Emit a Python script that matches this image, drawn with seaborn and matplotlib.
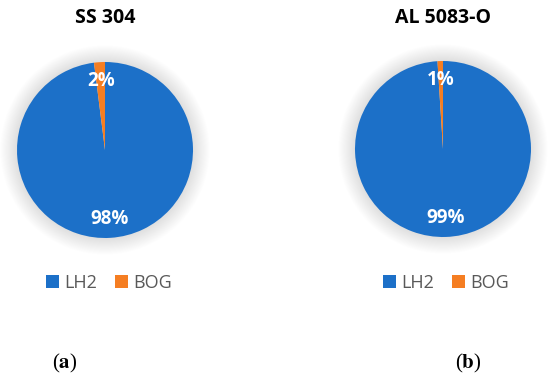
import numpy as np
import matplotlib
matplotlib.use("Agg")
import matplotlib.pyplot as plt
from matplotlib.patches import Circle, Patch
import seaborn as sns

# data
materials = ["SS 304", "AL 5083-O"]
categories = ["LH2", "BOG"]
shares_ss304 = [98, 2]
shares_al5083 = [99, 1]
panel_tags = ["a", "b"]

sns.set_theme(style="white")
plt.rcParams['font.family'] = ['Open Sans', 'DejaVu Sans']
plt.rcParams['mathtext.fontset'] = 'stix'

colors = ["#1C70C8", "#F57E22"]

W, H = 550, 382
fig = plt.figure(figsize=(W / 100, H / 100), dpi=100)
fig.patch.set_facecolor("white")

# pixel geometry of each panel: (center x, center y, radius)
panels = [(105, 150, 88), (443, 149, 88)]
legend_x = [109, 446]
caption_x = [65, 468]

for shares, name, tag, (cx, cy, r), lx, capx in zip(
        [shares_ss304, shares_al5083], materials, panel_tags, panels, legend_x, caption_x):
    ax = fig.add_axes([(cx - r) / W, 1 - (cy + r) / H, 2 * r / W, 2 * r / H])

    # soft glow shadow around pie
    for k in range(32):
        rad = 1.0 + 0.006 * (k + 1)
        ax.add_patch(Circle((0.0, 0.0), rad, color="black", alpha=0.0028,
                            lw=0, clip_on=False, zorder=0))

    wedges, texts, autotexts = ax.pie(
        shares, colors=colors, startangle=90, counterclock=False,
        autopct=lambda p: f"{p:.0f}%", pctdistance=0.78,
        wedgeprops=dict(linewidth=0),
        textprops=dict(color="white", fontsize=13.5, fontweight="bold"))
    for w in wedges:
        w.set_zorder(2)
    for t in autotexts:
        t.set_zorder(3)
    ax.set_xlim(-1, 1)
    ax.set_ylim(-1, 1)
    ax.set_aspect("equal")
    ax.axis("off")

    fig.text(cx / W, 1 - 18 / H, name, ha="center", va="center",
             fontsize=14, fontweight="bold", color="black")

    handles = [Patch(facecolor=c, edgecolor="none", label=l)
               for c, l in zip(colors, categories)]
    fig.legend(handles=handles, loc="center", bbox_to_anchor=(lx / W, 1 - 283 / H),
               ncol=2, frameon=False, fontsize=13, handlelength=0.7,
               handleheight=0.7, handletextpad=0.3, columnspacing=1.0,
               labelcolor="#595959")

    fig.text(capx / W, 1 - 363 / H, rf"(${{\mathbf{{{tag}}}}}$)", ha="center",
             va="center", fontsize=15, family="Liberation Serif", color="black")

fig.savefig("out.png", dpi=100, facecolor="white")
